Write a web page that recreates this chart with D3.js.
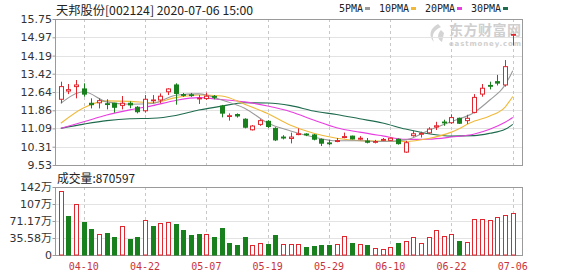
<!DOCTYPE html>
<html>
<head>
<meta charset="utf-8">
<script src="https://cdn.jsdelivr.net/npm/d3@7"></script>
<style>
  body { margin: 0; background: #fff; }
  #chart { width: 580px; height: 276px; }
</style>
</head>
<body>
<div id="chart"></div>
<script>
// trading days shown
const dates = [
  '04-07','04-08','04-09','04-10','04-13','04-14','04-15','04-16','04-17','04-20',
  '04-21','04-22','04-23','04-24','04-27','04-28','04-29','04-30','05-06','05-07',
  '05-08','05-11','05-12','05-13','05-14','05-15','05-18','05-19','05-20','05-21',
  '05-22','05-25','05-26','05-27','05-28','05-29','06-01','06-02','06-03','06-04',
  '06-05','06-08','06-09','06-10','06-11','06-12','06-15','06-16','06-17','06-18',
  '06-19','06-22','06-23','06-24','06-29','06-30','07-01','07-02','07-03','07-06'
];
const open = [
  12.33,12.68,12.87,12.77,12.16,12.18,12.14,12.16,12.07,12.16,
  11.99,11.84,12.28,12.30,12.65,12.94,12.53,12.52,12.35,12.36,
  12.45,12.04,11.60,11.68,11.48,11.03,11.26,11.39,11.09,10.72,
  10.66,10.83,10.85,10.81,10.62,10.47,10.53,10.70,10.76,10.63,
  10.55,10.50,10.58,10.58,10.62,10.08,10.78,10.84,10.90,11.15,
  11.36,11.33,11.52,11.42,11.77,12.55,12.92,13.08,12.94,15.09
];
const close = [
  12.87,12.74,12.94,12.55,12.10,12.27,12.11,11.99,12.16,12.09,
  11.80,12.33,12.30,12.46,12.77,12.58,12.51,12.49,12.38,12.46,
  12.42,11.74,11.63,11.62,11.14,11.19,11.42,11.17,10.60,10.68,
  10.72,10.86,10.82,10.63,10.46,10.44,10.57,10.74,10.64,10.67,
  10.50,10.53,10.62,10.67,10.44,10.48,10.86,10.88,11.06,11.20,
  11.33,11.55,11.31,11.52,12.41,12.80,12.89,13.02,13.72,15.09
];
const high = [
  13.08,12.98,13.15,13.01,12.37,12.37,12.33,12.18,12.47,12.24,
  12.04,12.51,12.51,12.58,12.80,13.01,12.60,12.60,12.51,12.61,
  12.51,12.09,11.73,11.73,11.52,11.23,11.48,11.44,11.14,10.80,
  10.91,11.09,10.88,10.85,10.66,10.60,10.68,10.91,10.78,10.76,
  10.68,10.60,10.68,10.70,10.66,10.56,11.00,10.95,11.14,11.37,
  11.46,11.69,11.55,11.67,12.55,12.98,13.08,13.37,14.00,15.09
];
const low = [
  12.16,12.55,12.37,12.44,11.94,11.94,11.90,11.76,11.90,11.95,
  11.73,11.76,12.16,12.16,12.51,12.10,12.44,12.43,12.13,12.30,
  12.33,11.56,11.42,11.55,11.09,11.00,11.20,11.11,10.55,10.62,
  10.45,10.80,10.76,10.58,10.34,10.38,10.50,10.67,10.62,10.59,
  10.45,10.45,10.55,10.55,10.40,10.05,10.74,10.70,10.85,11.02,
  11.20,11.28,11.28,11.28,11.73,12.44,12.75,12.92,12.87,14.62
];
// volume in 万 (10k shares)
const volume = [
  134,82,106,70,55,44,46,38,61,33,
  38,73,61,66,70,65,52,42,44,44,
  38,57,25,21,38,21,25,23,42,23,
  23,24,17,19,21,21,24,40,25,24,
  21,14,12.5,17,25,29,37,25,37,52,
  40,43,29,27,75,75,73,79,83,87.0597
];

// moving averages at these day indices
const maIdx = [0,3,6,9,12,15,18,21,24,27,30,33,36,39,42,45,48,51,54,56,58,59];
const ma5  = [12.16,12.65,12.22,12.12,12.15,12.50,12.56,12.30,11.95,11.32,10.98,10.72,10.56,10.56,10.53,10.60,11.00,11.38,11.78,12.30,12.94,13.55];
const ma10 = [11.31,11.97,12.26,12.24,12.18,12.40,12.51,12.47,12.12,11.72,11.22,10.88,10.67,10.57,10.55,10.53,10.66,10.93,11.40,11.62,12.00,12.45];
const ma20 = [11.09,11.37,11.66,11.88,12.06,12.28,12.40,12.32,12.22,12.04,11.80,11.45,11.12,10.93,10.77,10.62,10.63,10.72,10.85,11.05,11.35,11.55];
const ma30 = [11.09,11.27,11.42,11.50,11.52,11.64,11.87,12.04,12.18,12.17,12.06,11.83,11.68,11.50,11.32,11.06,10.86,10.76,10.78,10.88,11.05,11.26];

const maNames = ['5PMA','10PMA','20PMA','30PMA'];
const maColors = ['#9a9a9a','#f0b93a','#e83ee0','#1f6b4e'];

const priceTicks = [15.75,14.97,14.19,13.42,12.64,11.86,11.09,10.31,9.53];
const volTicks = [0,35.58,71.17,106.75,142.33];
const volTickLabels = ['0','35.58万','71.17万','107万','142万'];
const xLabelDates = ['04-10','04-22','05-07','05-19','05-29','06-10','06-22','07-06'];

const upColor = '#e0262e';
const downColor = '#18801c';
const gridColor = '#e3e3e3';
const frameColor = '#9a9a9a';

const width = 580, height = 276;
const left = 55, right = 522;
const priceTop = 19, priceBottom = 165;
const volTop = 187, volBottom = 255;

const svg = d3.select('#chart').append('svg')
    .attr('width', width)
    .attr('height', height)
    .style('font-family', '"DejaVu Sans", "Noto Sans CJK SC", sans-serif');

const x = d3.scaleBand().domain(dates).range([57, 516.6]).paddingInner(0);
const cx = d => x(d) + x.bandwidth() / 2;
const yP = d3.scaleLinear().domain([9.53, 15.75]).range([priceBottom, priceTop]);
const yV = d3.scaleLinear().domain([0, 142.33]).range([volBottom, volTop]);

// watermark
const wm = svg.append('g').attr('fill', '#cfcfcf');
wm.append('path')
    .attr('d', 'M438,24 C430,28 428,36 434,42 C431,35 434,30 441,27 Z M441,30 C437,34 437,39 442,42 L444,33 Z')
    .attr('fill', '#d4d4d4');
wm.append('text').attr('x', 449).attr('y', 35)
    .style('font-family', '"Noto Sans CJK SC"').style('font-size', '14px').style('font-weight', 'bold')
    .attr('textLength', 72).text('东方财富网');
wm.append('text').attr('x', 449).attr('y', 46)
    .style('font-size', '7px').style('font-weight', 'bold')
    .attr('textLength', 72).text('eastmoney.com');

// grids
const grid = svg.append('g');
grid.selectAll('line.hp').data(priceTicks).enter().append('line')
    .attr('x1', left).attr('x2', right)
    .attr('y1', d => Math.round(yP(d)) + 0.5).attr('y2', d => Math.round(yP(d)) + 0.5)
    .attr('stroke', gridColor);
grid.selectAll('line.hv').data(volTicks).enter().append('line')
    .attr('x1', left).attr('x2', right)
    .attr('y1', d => Math.round(yV(d)) + 0.5).attr('y2', d => Math.round(yV(d)) + 0.5)
    .attr('stroke', gridColor);
[[priceTop, priceBottom], [volTop, volBottom]].forEach(([t, b]) => {
    grid.selectAll(null).data(xLabelDates).enter().append('line')
        .attr('x1', d => Math.round(cx(d)) + 0.5).attr('x2', d => Math.round(cx(d)) + 0.5)
        .attr('y1', t).attr('y2', b)
        .attr('stroke', '#c8c8c8').attr('stroke-dasharray', '3,3');
});

// frames
[[priceTop, priceBottom], [volTop, volBottom]].forEach(([t, b]) => {
    svg.append('rect')
        .attr('x', left + 0.5).attr('y', t + 0.5)
        .attr('width', right - left).attr('height', b - t)
        .attr('fill', 'none').attr('stroke', frameColor);
});

// y axes
const yAxisP = svg.append('g').attr('transform', `translate(${left + 0.5},0)`)
    .call(d3.axisLeft(yP).tickValues(priceTicks).tickSize(3).tickFormat(d3.format('.2f')));
const yAxisV = svg.append('g').attr('transform', `translate(${left + 0.5},0)`)
    .call(d3.axisLeft(yV).tickValues(volTicks).tickSize(3).tickFormat((d, i) => volTickLabels[i]));
[yAxisP, yAxisV].forEach(a => {
    a.select('.domain').remove();
    a.selectAll('.tick line').attr('stroke', frameColor);
    a.selectAll('.tick text')
        .attr('x', -3.5)
        .attr('fill', '#333')
        .style('font-size', '11px')
        .style('font-family', '"DejaVu Sans", "Noto Sans CJK SC", sans-serif');
});

// x axis labels
svg.append('g').selectAll('text').data(xLabelDates).enter().append('text')
    .attr('x', d => cx(d)).attr('y', 270)
    .attr('text-anchor', 'middle')
    .attr('fill', '#c8323a')
    .style('font-family', '"DejaVu Sans Mono", monospace')
    .style('font-size', '10px')
    .text(d => d);

// MA lines
const maSeries = [ma5, ma10, ma20, ma30];
const maLine = d3.line()
    .x(p => cx(dates[p[0]]))
    .y(p => yP(p[1]))
    .curve(d3.curveMonotoneX);
maSeries.slice().reverse().forEach((vals, k) => {
    const i = maSeries.length - 1 - k;
    svg.append('path')
        .datum(maIdx.map((d, j) => [d, vals[j]]))
        .attr('d', maLine)
        .attr('fill', 'none')
        .attr('stroke', maColors[i])
        .attr('stroke-width', 1.1);
});

// candles
const bodyW = 5;
const candles = dates.map((d, i) => ({ d, o: open[i], c: close[i], h: high[i], l: low[i] }));
const cg = svg.append('g').selectAll('g').data(candles).enter().append('g');
cg.append('line')
    .attr('x1', d => Math.round(cx(d.d)) + 0.5).attr('x2', d => Math.round(cx(d.d)) + 0.5)
    .attr('y1', d => yP(d.h)).attr('y2', d => yP(d.l))
    .attr('stroke', d => d.c >= d.o ? upColor : downColor);
cg.append('rect')
    .attr('x', d => Math.round(cx(d.d)) - 2 + 0.5)
    .attr('y', d => yP(Math.max(d.o, d.c)))
    .attr('width', bodyW - 1)
    .attr('height', d => Math.max(0.8, Math.abs(yP(d.o) - yP(d.c))))
    .attr('fill', d => d.c >= d.o ? '#fff' : downColor)
    .attr('stroke', d => d.c >= d.o ? upColor : downColor);

// volume bars (colour by change against previous close)
const vols = dates.map((d, i) => ({
    d, v: volume[i],
    up: i === 0 ? close[i] >= open[i] : close[i] >= close[i - 1]
}));
svg.append('g').selectAll('rect').data(vols).enter().append('rect')
    .attr('x', d => Math.round(cx(d.d)) - 2 + 0.5)
    .attr('y', d => Math.round(yV(d.v)) + 0.5)
    .attr('width', bodyW - 1)
    .attr('height', d => volBottom - Math.round(yV(d.v)) - 0.5)
    .attr('fill', d => d.up ? '#fff' : downColor)
    .attr('stroke', d => d.up ? upColor : downColor);

// title and volume caption
svg.append('text').attr('x', 56).attr('y', 15)
    .attr('fill', '#222')
    .style('font-family', '"Noto Sans CJK SC", sans-serif').style('font-size', '12px')
    .attr('textLength', 197).attr('lengthAdjust', 'spacingAndGlyphs')
    .text('天邦股份[002124] 2020-07-06 15:00');
svg.append('text').attr('x', 57).attr('y', 183)
    .attr('fill', '#222')
    .style('font-family', '"Noto Sans CJK SC", sans-serif').style('font-size', '12px')
    .attr('textLength', 78).attr('lengthAdjust', 'spacingAndGlyphs')
    .text('成交量:' + Math.round(volume[volume.length - 1] * 10000));

// legend
let lx = 339;
const lg = svg.append('g');
maNames.forEach((name, i) => {
    lg.append('text').attr('x', lx).attr('y', 12)
        .attr('fill', '#222')
        .style('font-family', '"DejaVu Sans Mono", monospace').style('font-size', '10px')
        .text(name);
    lx += name.length * 6 + 2;
    lg.append('rect').attr('x', lx).attr('y', 7).attr('width', 5).attr('height', 3)
        .attr('fill', maColors[i]);
    lx += 14;
});
</script>
</body>
</html>
